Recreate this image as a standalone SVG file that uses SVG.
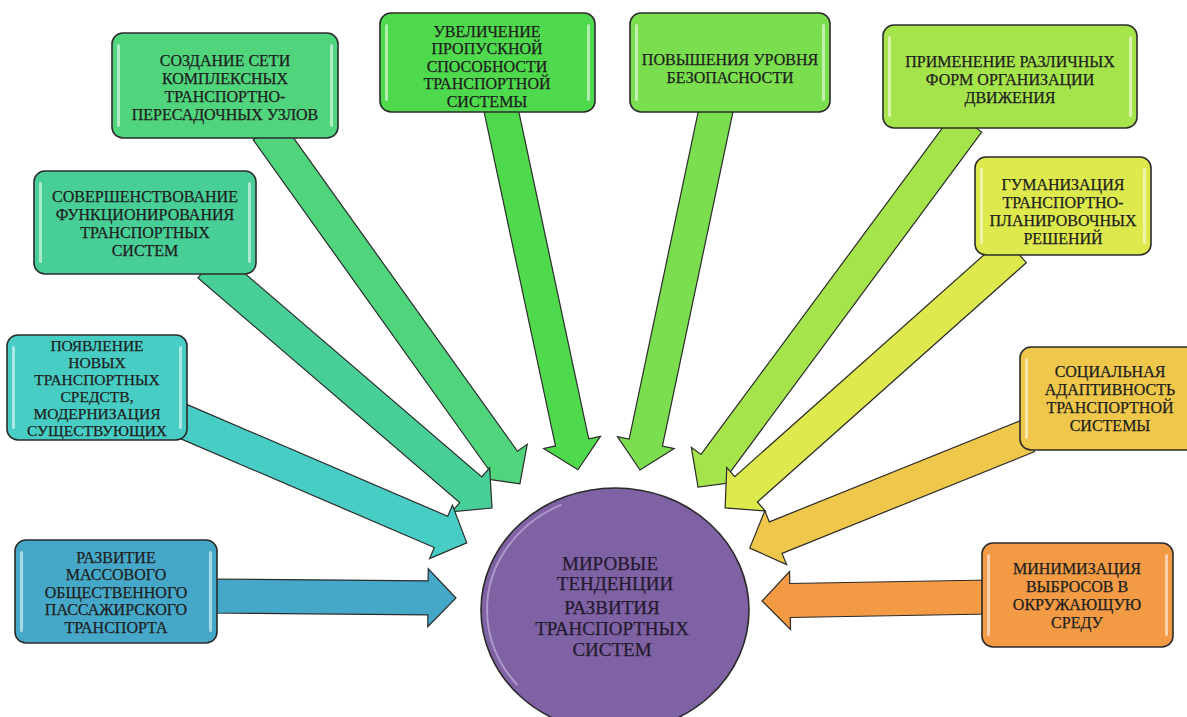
<svg xmlns="http://www.w3.org/2000/svg" width="1187" height="717" viewBox="0 0 1187 717">
<defs>
<style>
.box{stroke:#2b2b2b;stroke-width:1.6}
.hl{fill:#ffffff;opacity:0.55}
.arr{stroke:#2b2b2b;stroke-width:1.2;stroke-linejoin:miter}
.t{font-family:"Liberation Serif","Times New Roman",serif;font-size:16px;fill:#1e1e1e;stroke:#1e1e1e;stroke-width:0.25;text-anchor:middle}
.s{font-size:15.5px}
.ct{font-family:"Liberation Serif","Times New Roman",serif;font-size:19px;fill:#241a30;stroke:#241a30;stroke-width:0.25;text-anchor:middle}
</style>
</defs>
<rect width="1187" height="717" fill="#ffffff"/>
<g id="connectors">
<g transform="translate(267,130) rotate(54.45)"><polygon class="arr" fill="#50d47c" points="0,-17 407,-17 407,-29 435,0 407,29 407,17 0,17"/></g>
<g transform="translate(209,265) rotate(40.65)"><polygon class="arr" fill="#48cf98" points="0,-17 345,-17 345,-29 373,0 345,29 345,17 0,17"/></g>
<g transform="translate(180,420) rotate(23.2)"><polygon class="arr" fill="#48cdc4" points="0,-17 284,-17 284,-29 312,0 284,29 284,17 0,17"/></g>
<g transform="translate(210,596) rotate(0.47)"><polygon class="arr" fill="#46a8c8" points="0,-17 218,-17 218,-29 246,0 218,29 218,17 0,17"/></g>
<g transform="translate(500,105) rotate(77.94)"><polygon class="arr" fill="#4fd94c" points="0,-17 345,-17 345,-29 373,0 345,29 345,17 0,17"/></g>
<g transform="translate(717,105) rotate(101.91)"><polygon class="arr" fill="#7ade4e" points="0,-17 345,-17 345,-29 373,0 345,29 345,17 0,17"/></g>
<g transform="translate(968,122) rotate(126.49)"><polygon class="arr" fill="#a6e44c" points="0,-17 426,-17 426,-29 454,0 426,29 426,17 0,17"/></g>
<g transform="translate(1015,250) rotate(138.34)"><polygon class="arr" fill="#dde94c" points="0,-17 360,-17 360,-29 388,0 360,29 360,17 0,17"/></g>
<g transform="translate(1028,436) rotate(158.06)"><polygon class="arr" fill="#efc74a" points="0,-17 272,-17 272,-29 300,0 272,29 272,17 0,17"/></g>
<g transform="translate(990,597) rotate(179)"><polygon class="arr" fill="#f39a44" points="0,-17 200,-17 200,-29 228,0 200,29 200,17 0,17"/></g>
</g>

<g id="n1">
<rect class="box" x="112" y="33" width="226" height="105" rx="11" fill="#50d47c"/>
<rect class="hl" x="117" y="44" width="3" height="83" rx="1.5"/><rect class="hl" x="330" y="44" width="3" height="83" rx="1.5"/>
<text class="t" x="225" y="66">СОЗДАНИЕ СЕТИ</text>
<text class="t" x="225" y="84">КОМПЛЕКСНЫХ</text>
<text class="t" x="225" y="102">ТРАНСПОРТНО-</text>
<text class="t" x="225" y="120">ПЕРЕСАДОЧНЫХ УЗЛОВ</text>
</g>
<g id="n2">
<rect class="box" x="34" y="171" width="222" height="103" rx="11" fill="#48cf98"/>
<rect class="hl" x="39" y="182" width="3" height="81" rx="1.5"/><rect class="hl" x="248" y="182" width="3" height="81" rx="1.5"/>
<text class="t" x="145" y="202">СОВЕРШЕНСТВОВАНИЕ</text>
<text class="t" x="145" y="220">ФУНКЦИОНИРОВАНИЯ</text>
<text class="t" x="145" y="238">ТРАНСПОРТНЫХ</text>
<text class="t" x="145" y="256">СИСТЕМ</text>
</g>
<g id="n3">
<rect class="box" x="380" y="13" width="215" height="99" rx="11" fill="#4fd94c"/>
<rect class="hl" x="385" y="24" width="3" height="77" rx="1.5"/><rect class="hl" x="587" y="24" width="3" height="77" rx="1.5"/>
<text class="t" x="487" y="36.5">УВЕЛИЧЕНИЕ</text>
<text class="t" x="487" y="54">ПРОПУСКНОЙ</text>
<text class="t" x="487" y="71.5">СПОСОБНОСТИ</text>
<text class="t" x="487" y="89">ТРАНСПОРТНОЙ</text>
<text class="t" x="487" y="106.5">СИСТЕМЫ</text>
</g>
<g id="n4">
<rect class="box" x="630" y="13" width="200" height="99" rx="11" fill="#7ade4e"/>
<rect class="hl" x="635" y="24" width="3" height="77" rx="1.5"/><rect class="hl" x="822" y="24" width="3" height="77" rx="1.5"/>
<text class="t" x="730" y="65">ПОВЫШЕНИЯ УРОВНЯ</text>
<text class="t" x="730" y="83">БЕЗОПАСНОСТИ</text>
</g>
<g id="n5">
<rect class="box" x="883" y="25" width="254" height="103" rx="11" fill="#a6e44c"/>
<rect class="hl" x="888" y="36" width="3" height="81" rx="1.5"/><rect class="hl" x="1129" y="36" width="3" height="81" rx="1.5"/>
<text class="t" x="1010" y="67">ПРИМЕНЕНИЕ РАЗЛИЧНЫХ</text>
<text class="t" x="1010" y="85">ФОРМ ОРГАНИЗАЦИИ</text>
<text class="t" x="1010" y="103">ДВИЖЕНИЯ</text>
</g>
<g id="n6">
<rect class="box" x="975" y="157" width="176" height="98" rx="11" fill="#dde94c"/>
<rect class="hl" x="980" y="168" width="3" height="76" rx="1.5"/><rect class="hl" x="1143" y="168" width="3" height="76" rx="1.5"/>
<text class="t" x="1063" y="190">ГУМАНИЗАЦИЯ</text>
<text class="t" x="1063" y="208">ТРАНСПОРТНО-</text>
<text class="t" x="1063" y="226">ПЛАНИРОВОЧНЫХ</text>
<text class="t" x="1063" y="244">РЕШЕНИЙ</text>
</g>
<g id="n7">
<rect class="box" x="7" y="335" width="180" height="105" rx="11" fill="#48cdc4"/>
<rect class="hl" x="12" y="346" width="3" height="83" rx="1.5"/><rect class="hl" x="179" y="346" width="3" height="83" rx="1.5"/>
<text class="t s" x="97" y="351">ПОЯВЛЕНИЕ</text>
<text class="t s" x="97" y="368">НОВЫХ</text>
<text class="t s" x="97" y="385">ТРАНСПОРТНЫХ</text>
<text class="t s" x="97" y="402">СРЕДСТВ,</text>
<text class="t s" x="97" y="419">МОДЕРНИЗАЦИЯ</text>
<text class="t s" x="97" y="436">СУЩЕСТВУЮЩИХ</text>
</g>
<g id="n8">
<rect class="box" x="15" y="540" width="202" height="103" rx="11" fill="#46a8c8"/>
<rect class="hl" x="20" y="551" width="3" height="81" rx="1.5"/><rect class="hl" x="209" y="551" width="3" height="81" rx="1.5"/>
<text class="t" x="116" y="562.5">РАЗВИТИЕ</text>
<text class="t" x="116" y="580">МАССОВОГО</text>
<text class="t" x="116" y="597.5">ОБЩЕСТВЕННОГО</text>
<text class="t" x="116" y="615">ПАССАЖИРСКОГО</text>
<text class="t" x="116" y="632.5">ТРАНСПОРТА</text>
</g>
<g id="n9">
<rect class="box" x="1020" y="347" width="178" height="103" rx="11" fill="#efc74a"/>
<rect class="hl" x="1025" y="358" width="3" height="81" rx="1.5"/>
<text class="t" x="1110" y="376.5">СОЦИАЛЬНАЯ</text>
<text class="t" x="1110" y="394.5">АДАПТИВНОСТЬ</text>
<text class="t" x="1110" y="412.5">ТРАНСПОРТНОЙ</text>
<text class="t" x="1110" y="430.5">СИСТЕМЫ</text>
</g>
<g id="n10">
<rect class="box" x="982" y="543" width="191" height="104" rx="11" fill="#f39a44"/>
<rect class="hl" x="987" y="554" width="3" height="82" rx="1.5"/><rect class="hl" x="1165" y="554" width="3" height="82" rx="1.5"/>
<text class="t" x="1077" y="574">МИНИМИЗАЦИЯ</text>
<text class="t" x="1077" y="592">ВЫБРОСОВ В</text>
<text class="t" x="1077" y="610">ОКРУЖАЮЩУЮ</text>
<text class="t" x="1077" y="628">СРЕДУ</text>
</g>
<g id="center">
<ellipse cx="615" cy="610" rx="134" ry="122" fill="#7f62a3" stroke="#2b2b2b" stroke-width="1.6"/>
<ellipse cx="615" cy="610" rx="128" ry="116" fill="none" stroke="#b9a6d4" stroke-width="2" stroke-dasharray="0 300 220 400" opacity="0.8"/>
<text class="ct" x="610" y="570">МИРОВЫЕ</text>
<text class="ct" x="615" y="590">ТЕНДЕНЦИИ</text>
<text class="ct" x="612" y="614">РАЗВИТИЯ</text>
<text class="ct" x="612" y="635">ТРАНСПОРТНЫХ</text>
<text class="ct" x="612" y="656">СИСТЕМ</text>
</g>
</svg>
